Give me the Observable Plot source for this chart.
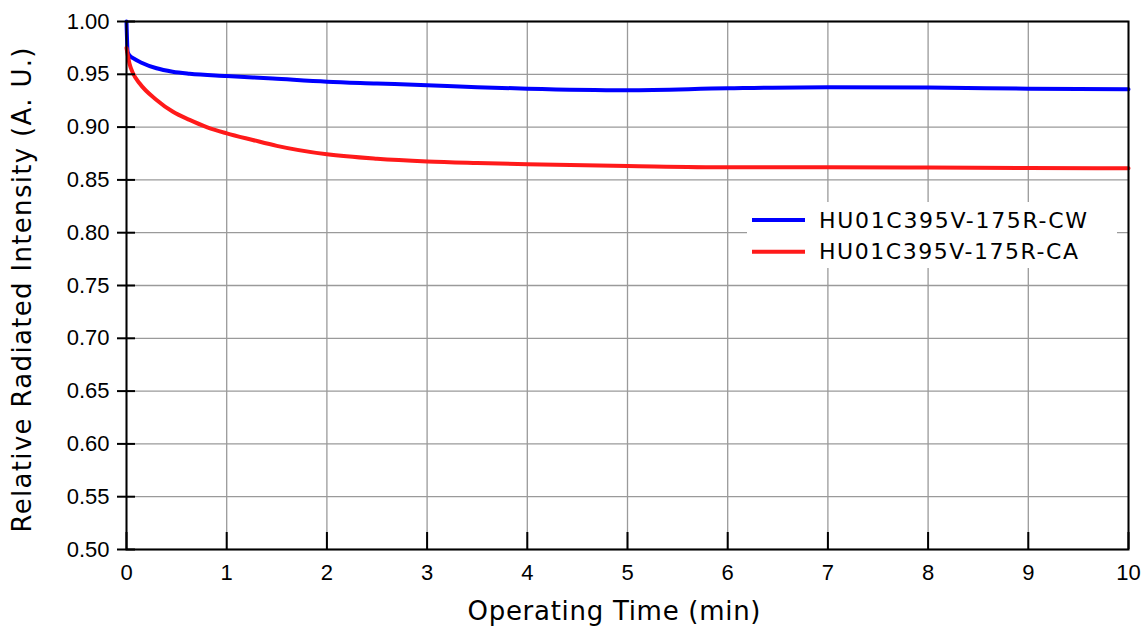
<!DOCTYPE html>
<html>
<head>
<meta charset="utf-8">
<script src="https://cdn.jsdelivr.net/npm/d3@7"></script>
<script src="https://cdn.jsdelivr.net/npm/@observablehq/plot@0.6"></script>
<style>
  html, body { margin: 0; padding: 0; background: #fff; }
  #wrap { position: relative; width: 1148px; height: 628px; }
  g[aria-label="x-axis label"] text, g[aria-label="y-axis label"] text {
    font-family: "DejaVu Sans", Verdana, sans-serif; font-size: 26px;
  }
  #legend { position: absolute; left: 0; top: 0; pointer-events: none; }
</style>
</head>
<body>
<div id="wrap"></div>
<script>
// Operating time (min) and relative radiated intensity, CW
const timeCW = [0, 0.012, 0.03, 0.07, 0.15, 0.3, 0.46, 0.63, 1.0, 1.46, 2.0, 2.5, 3.0, 3.5, 4.0, 5.0, 6.0, 7.0, 8.0, 9.0, 10.0];
const cw =     [1.000, 0.971, 0.968, 0.965, 0.961, 0.9557, 0.9525, 0.9506, 0.9484, 0.946, 0.943, 0.9413, 0.9396, 0.9378, 0.9364, 0.935, 0.9367, 0.9377, 0.9375, 0.9364, 0.9358];
// Operating time (min) and relative radiated intensity, CA
const timeCA = [0, 0.03, 0.065, 0.13, 0.3, 0.46, 0.63, 0.8, 1.0, 1.26, 1.5, 2.0, 2.5, 3.0, 3.5, 4.0, 5.0, 6.0, 7.0, 8.0, 9.0, 10.0];
const ca =     [0.975, 0.960, 0.951, 0.9415, 0.9257, 0.9147, 0.9068, 0.900, 0.8941, 0.8878, 0.8822, 0.8742, 0.8700, 0.8675, 0.8660, 0.8648, 0.8632, 0.862, 0.862, 0.8617, 0.8612, 0.861];
const seriesNames = ["HU01C395V-175R-CW", "HU01C395V-175R-CA"];
const seriesColors = ["#0000ff", "#ff1a1a"];
const xTicks = [0, 1, 2, 3, 4, 5, 6, 7, 8, 9, 10];
const yTicks = [0.50, 0.55, 0.60, 0.65, 0.70, 0.75, 0.80, 0.85, 0.90, 0.95, 1.00];

const rows = [
  ...timeCW.map((t, i) => ({t, v: cw[i], s: seriesNames[0]})),
  ...timeCA.map((t, i) => ({t, v: ca[i], s: seriesNames[1]}))
];

const blank = () => "";

const chart = Plot.plot({
  width: 1148, height: 628,
  marginLeft: 126, marginRight: 20, marginTop: 21, marginBottom: 79,
  style: {fontFamily: '"Liberation Sans", Arial, sans-serif', fontSize: "22px", color: "#000", background: "#fff"},
  x: {domain: [0, 10]},
  y: {domain: [0.5, 1]},
  color: {domain: seriesNames, range: seriesColors},
  marks: [
    Plot.gridX(xTicks, {stroke: "#9a9a9a", strokeOpacity: 1, strokeWidth: 1.3}),
    Plot.gridY(yTicks, {stroke: "#9a9a9a", strokeOpacity: 1, strokeWidth: 1.3}),
    Plot.line(rows, {x: "t", y: "v", z: "s", stroke: "s", strokeWidth: 4, curve: "monotone-x"}),
    Plot.frame({stroke: "#000", strokeWidth: 2}),
    Plot.axisY(yTicks, {tickSize: 9, strokeWidth: 2, tickFormat: blank, label: null}),
    Plot.axisY(yTicks, {tickSize: -9, strokeWidth: 2, tickFormat: blank, label: null}),
    Plot.axisY(yTicks, {tickSize: 0, tickPadding: 17, tickFormat: d3.format(".2f"),
      label: "Relative Radiated Intensity (A. U.)", labelAnchor: "center", labelArrow: "none", labelOffset: 114}),
    Plot.axisX(xTicks, {tickSize: -17, strokeWidth: 2, tickFormat: blank, label: null}),
    Plot.axisX(xTicks, {tickSize: 0, tickPadding: 15, tickFormat: d3.format("d"),
      label: "Operating Time (min)", labelAnchor: "center", labelArrow: "none", labelOffset: 70})
  ]
});

const wrap = document.getElementById("wrap");
wrap.appendChild(chart);

// Fit axis-label widths to the reference
const svg = d3.select(chart);
const xl = svg.select('g[aria-label="x-axis label"] text');
xl.attr("textLength", 293).attr("lengthAdjust", "spacing");
const xt = xl.attr("transform") || "";
xl.attr("transform", xt + " translate(-13.5,0)");
const yl = svg.select('g[aria-label="y-axis label"] text');
yl.attr("textLength", 485).attr("lengthAdjust", "spacing");
const yt = yl.attr("transform") || "";
yl.attr("transform", yt + " translate(-4.5,0)");

// Legend overlay
const leg = d3.select(wrap).append("svg")
  .attr("id", "legend").attr("width", 1148).attr("height", 628);
leg.append("rect").attr("x", 747).attr("y", 202).attr("width", 370).attr("height", 66).attr("fill", "#fff");
const legRows = leg.selectAll("g.item").data(seriesNames).join("g")
  .attr("transform", (d, i) => `translate(0,${i * 31.7})`);
legRows.append("line")
  .attr("x1", 752).attr("x2", 805).attr("y1", 220).attr("y2", 220)
  .attr("stroke", (d, i) => seriesColors[i]).attr("stroke-width", 4);
legRows.append("text")
  .attr("x", 819).attr("y", 227.7)
  .attr("font-family", '"DejaVu Sans", Verdana, sans-serif').attr("font-size", 22)
  .attr("textLength", (d, i) => i === 0 ? 268 : 259).attr("lengthAdjust", "spacing")
  .attr("fill", "#000")
  .text(d => d);
</script>
</body>
</html>
